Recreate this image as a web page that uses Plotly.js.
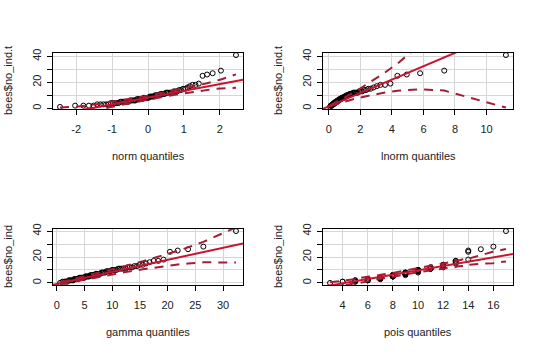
<!DOCTYPE html>
<html><head><meta charset="utf-8">
<script src="https://cdn.plot.ly/plotly-3.0.1.min.js"></script>
<style>html,body{margin:0;padding:0;background:#fff}#chart{width:540px;height:352px}</style>
</head><body><div id="chart"></div>
<script>
// sorted observations (bottom panels: bees$no_ind, top panels: bees$no_ind.t)
const noInd = [0,1,1,1,1,2,2,2,2,2,3,3,3,3,3,4,4,4,4,4,4,5,5,5,5,5,6,6,6,6,6,7,7,7,7,7,8,8,8,8,9,9,9,9,10,10,10,10,11,11,11,11,11,12,12,12,13,13,14,14,15,16,17,17,18,24,25,26,28,40];
const noIndT = [1,2,2,2,2,3,3,3,3,3,4,4,4,4,4,5,5,5,5,5,5,6,6,6,6,6,7,7,7,7,7,8,8,8,8,8,9,9,9,9,10,10,10,10,11,11,11,11,12,12,12,12,12,13,13,13,14,14,15,15,16,17,18,18,19,25,26,27,29,41];

// theoretical quantiles (x positions)
const normQ = [-2.45,-2.03,-1.80,-1.645,-1.52,-1.415,-1.324,-1.242,-1.168,-1.10,-1.036,-0.977,-0.920,-0.867,-0.816,-0.767,-0.720,-0.674,-0.630,-0.587,-0.545,-0.504,-0.464,-0.424,-0.385,-0.347,-0.309,-0.272,-0.235,-0.198,-0.162,-0.126,-0.090,-0.054,-0.018,0.018,0.054,0.090,0.126,0.162,0.198,0.235,0.272,0.309,0.347,0.385,0.424,0.464,0.504,0.545,0.587,0.630,0.674,0.720,0.767,0.816,0.867,0.920,0.977,1.036,1.10,1.168,1.242,1.324,1.415,1.52,1.645,1.80,2.03,2.45];
const lnormQ = [0.076,0.116,0.147,0.172,0.196,0.218,0.239,0.260,0.281,0.301,0.321,0.341,0.361,0.381,0.402,0.422,0.443,0.464,0.485,0.507,0.529,0.552,0.575,0.599,0.623,0.648,0.674,0.700,0.726,0.754,0.783,0.811,0.842,0.874,0.907,0.940,0.975,1.012,1.050,1.089,1.130,1.173,1.218,1.265,1.315,1.367,1.422,1.482,1.543,1.609,1.680,1.756,1.835,1.924,2.018,2.121,2.234,2.359,2.501,2.656,2.835,3.038,3.277,3.561,3.908,4.350,4.942,5.789,7.32,11.23];
const gammaQ = [0.573,1.024,1.355,1.634,1.886,2.12,2.34,2.55,2.75,2.95,3.14,3.33,3.52,3.70,3.88,4.06,4.24,4.42,4.60,4.78,4.96,5.14,5.32,5.50,5.68,5.86,6.05,6.24,6.43,6.62,6.81,7.01,7.21,7.41,7.62,7.82,8.04,8.26,8.48,8.71,8.94,9.18,9.43,9.68,9.94,10.20,10.48,10.77,11.07,11.38,11.70,12.03,12.39,12.76,13.15,13.56,14.00,14.47,14.97,15.51,16.10,16.75,17.48,18.31,19.26,20.42,21.82,23.69,26.45,32.34];
const poisQ = [3,4,4,5,5,5,5,6,6,6,6,6,6,7,7,7,7,7,7,7,7,8,8,8,8,8,8,8,8,8,9,9,9,9,9,9,9,9,9,10,10,10,10,10,10,10,10,10,11,11,11,11,11,11,11,12,12,12,12,12,13,13,13,13,14,14,14,15,16,17];

// reference lines (intercept, slope) per panel: norm, lnorm, gamma, pois
const lineIntercept = [8.2, 1.5, -0.8, -7.0];
const lineSlope = [5.2, 5.15, 0.93, 1.67];

// confidence envelopes
const normEnvX = [-2.45,-2.03,-1.645,-1.036,-0.674,-0.32,0,0.32,0.674,1.036,1.324,1.645,1.8,2.03,2.45];
const normEnvHi = [0.64,1.10,2.22,4.68,6.35,8.09,9.73,11.42,13.36,15.45,17.21,19.33,20.42,22.21,26.12];
const normEnvLo = [-9.72,-5.82,-2.93,0.95,3.04,4.98,6.67,8.31,10.05,11.72,12.96,14.18,14.70,15.30,15.76];
const lnormEnvX = [0.076,0.172,0.321,0.464,0.923,1.835,2.656,3.038,3.561,4.350,4.942,5.789,7.32,11.23];
const lnormEnvHi = [2.29,2.83,3.76,4.67,7.67,14.03,20.2,23.2,27.5,34.4,39.8,48.0,64.8,118];
const lnormEnvLo = [1.49,1.94,2.55,3.11,4.83,7.87,10.2,11.1,12.2,13.5,14.1,14.6,13.6,0.5];
const gammaEnvX = [0.573,1.634,3.14,4.42,7.62,9.94,12.39,15.51,18.31,20.42,21.82,23.69,26.45,32.34];
const gammaEnvHi = [0.50,1.60,3.16,4.49,7.88,10.38,13.10,16.71,20.14,22.88,24.78,27.45,31.7,42.8];
const gammaEnvLo = [-1.03,-0.16,1.08,2.13,4.71,6.50,8.34,10.53,12.32,13.50,14.2,15.0,15.9,15.7];
const poisEnvX = [3,4,4,5,5,6,6,7,7,8,8,9,9,10,10,11,11,12,12,13,13,14,14,15,16,17];
const poisEnvHi = [0.52,1.56,2.09,2.89,3.40,4.44,4.78,6.07,6.28,7.76,7.86,9.51,9.51,11.30,11.21,13.15,12.98,15.08,14.84,17.15,16.78,19.30,18.74,21.33,24.18,26.17];
const poisEnvLo = [-4.5,-2.20,-2.73,-0.19,-0.70,1.60,1.26,3.31,3.10,4.96,4.86,6.56,6.55,8.10,8.19,9.59,9.77,11.0,11.24,12.27,12.64,13.46,14.02,14.77,15.26,16.61];

// axis ticks and labels
const xTitles = ["norm quantiles","lnorm quantiles","gamma quantiles","pois quantiles"];
const yTitles = ["bees$no_ind.t","bees$no_ind.t","bees$no_ind","bees$no_ind"];
const xTickVals = [[-2,-1,0,1,2],[0,2,4,6,8,10],[0,5,10,15,20,25,30],[4,6,8,10,12,14,16]];
const xTickText = [["-2","-1","0","1","2"],["0","2","4","6","8","10"],["0","5","10","15","20","25","30"],["4","6","8","10","12","14","16"]];
const yTickVals = [0,10,20,30,40];
const yTickText = ["0","","20","","40"];
const xRanges = [[-2.646,2.646],[-0.37,11.68],[-0.70,33.61],[2.44,17.56]];
const yRanges = [[-0.6,42.6],[-0.6,42.6],[-1.6,41.6],[-1.6,41.6]];

const W = 540, H = 352;
const boxes = [ // plot regions in pixels: x0,x1,y0(top),y1(bottom)
  [53,243,53,109],[323,513,53,109],[53,243,229,285],[323,513,229,285]
];
const panels = [
  {x: normQ, y: noIndT, ex: normEnvX, hi: normEnvHi, lo: normEnvLo},
  {x: lnormQ, y: noIndT, ex: lnormEnvX, hi: lnormEnvHi, lo: lnormEnvLo},
  {x: gammaQ, y: noInd, ex: gammaEnvX, hi: gammaEnvHi, lo: gammaEnvLo},
  {x: poisQ, y: noInd, ex: poisEnvX, hi: poisEnvHi, lo: poisEnvLo}
];

const solidCol = '#c8142f', dashCol = '#a41c36';
const font = 'Liberation Sans, Arial, sans-serif';
const FS = 11;
const traces = [], layout = {
  width: W, height: H, margin: {l:0,r:0,t:0,b:0},
  paper_bgcolor: '#fff', plot_bgcolor: '#fff', showlegend: false,
  font: {family: font, size: FS, color: '#222'}, annotations: []
};

panels.forEach((p, k) => {
  const s = k === 0 ? '' : String(k + 1);
  const xa = 'x' + s, ya = 'y' + s;
  const b = boxes[k];
  layout['xaxis' + s] = {
    domain: [b[0]/W, b[1]/W], anchor: ya, range: xRanges[k],
    tickmode: 'array', tickvals: xTickVals[k], ticktext: xTickText[k],
    showline: true, mirror: true, linecolor: '#000', linewidth: 1,
    ticks: 'outside', ticklen: 5, tickcolor: '#000', tickwidth: 1,
    showgrid: true, gridcolor: '#d6d6d6', gridwidth: 1, zeroline: false,
    tickfont: {family: font, size: FS, color: '#222'}, ticklabelstandoff: 5, fixedrange: true
  };
  layout['yaxis' + s] = {
    domain: [1 - b[3]/H, 1 - b[2]/H], anchor: xa, range: yRanges[k],
    tickmode: 'array', tickvals: yTickVals, ticktext: yTickText, tickangle: -90,
    showline: true, mirror: true, linecolor: '#000', linewidth: 1,
    ticks: 'outside', ticklen: 5, tickcolor: '#000', tickwidth: 1,
    showgrid: true, gridcolor: '#d6d6d6', gridwidth: 1, zeroline: false,
    tickfont: {family: font, size: FS, color: '#222'}, ticklabelstandoff: 2, fixedrange: true
  };
  traces.push({type: 'scatter', mode: 'markers', x: p.x, y: p.y, xaxis: xa, yaxis: ya,
    marker: {symbol: 'circle-open', size: 5, color: '#000', line: {width: 1, color: '#000'}}, hoverinfo: 'skip'});
  const xr = xRanges[k];
  traces.push({type: 'scatter', mode: 'lines', x: xr, y: xr.map(v => lineIntercept[k] + lineSlope[k] * v),
    xaxis: xa, yaxis: ya, line: {color: solidCol, width: 2}, hoverinfo: 'skip'});
  [p.hi, p.lo].forEach(env => traces.push({type: 'scatter', mode: 'lines', x: p.ex, y: env,
    xaxis: xa, yaxis: ya, line: {color: dashCol, width: 2, dash: '9px,7px'}, hoverinfo: 'skip'}));
  const cx = (b[0] + b[1]) / 2, cy = (b[2] + b[3]) / 2;
  layout.annotations.push({xref: 'paper', yref: 'paper', x: cx / W, y: 1 - (b[3] + 47) / H,
    xanchor: 'center', yanchor: 'middle', showarrow: false, text: xTitles[k],
    font: {family: font, size: FS, color: '#222'}});
  layout.annotations.push({xref: 'paper', yref: 'paper', x: (b[0] - 45) / W, y: 1 - cy / H,
    xanchor: 'center', yanchor: 'middle', showarrow: false, text: yTitles[k], textangle: -90,
    font: {family: font, size: FS, color: '#222'}});
});

Plotly.newPlot('chart', traces, layout, {staticPlot: true, displayModeBar: false});
</script></body></html>
